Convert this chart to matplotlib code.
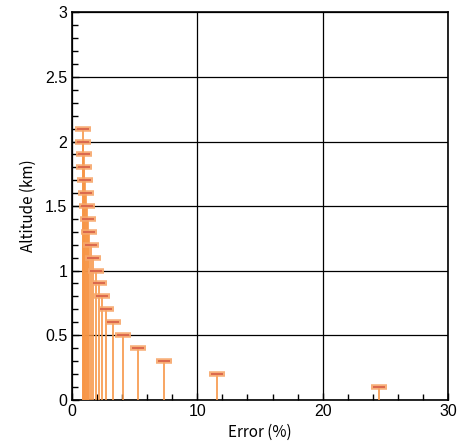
import matplotlib.pyplot as plt
from matplotlib.ticker import MultipleLocator

plt.rcParams['font.family'] = ['Liberation Sans', 'Noto Sans CJK JP', 'DejaVu Sans']

# Altitude levels (km) and error (%) at each
altitude = [2.1, 2.0, 1.9, 1.8, 1.7, 1.6, 1.5, 1.4, 1.3, 1.2, 1.1,
            1.0, 0.9, 0.8, 0.7, 0.6, 0.5, 0.4, 0.3, 0.2, 0.1]
error = [0.85, 0.91, 0.96, 0.96, 1.04, 1.09, 1.17, 1.28, 1.39, 1.52, 1.68,
         1.89, 2.16, 2.4, 2.72, 3.25, 4.03, 5.25, 7.33, 11.6, 24.5]

fig = plt.figure(figsize=(4.6, 4.41), dpi=100)
ax = fig.add_axes([0.1565, 0.094, 0.8175, 0.8777])

ax.vlines(error, 0, altitude, color='#f79646', lw=1.4, alpha=0.85, zorder=3)
ax.plot(error, altitude, ls='none', marker='_', ms=11, mew=4,
        color='#f7a66a', alpha=0.9, zorder=4)
ax.plot(error, altitude, ls='none', marker='_', ms=9, mew=1.3,
        color='#d9634a', zorder=5)

ax.set_xlim(0, 30)
ax.set_ylim(0, 3)
ax.xaxis.set_major_locator(MultipleLocator(10))
ax.xaxis.set_minor_locator(MultipleLocator(2))
ax.yaxis.set_major_locator(MultipleLocator(0.5))
ax.yaxis.set_minor_locator(MultipleLocator(0.1))
ax.yaxis.set_major_formatter(plt.FuncFormatter(lambda v, p: f'{v:g}'))
ax.tick_params(which='both', direction='in', top=False, right=False,
               labelsize=11.5, width=1)
ax.tick_params(which='major', length=5)
ax.tick_params(which='minor', length=4)
ax.grid(True, which='major', color='black', lw=0.9)

for s in ax.spines.values():
    s.set_linewidth(1.2)

ax.set_xlabel('Error (%)', fontsize=11, labelpad=3,
              family=['Noto Sans CJK JP', 'DejaVu Sans'])
ax.set_ylabel('Altitude (km)', fontsize=11, labelpad=6,
              family=['Noto Sans CJK JP', 'DejaVu Sans'])

plt.savefig('out.png', dpi=100)
